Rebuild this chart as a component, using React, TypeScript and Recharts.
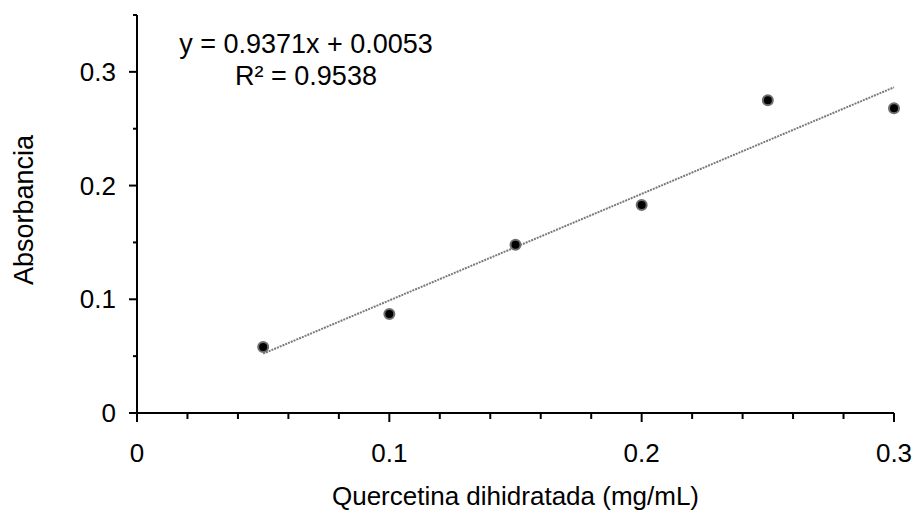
import React from "react";
import {
  ComposedChart,
  Scatter,
  XAxis,
  YAxis,
  ReferenceLine,
  Label,
} from "recharts";

// calibration points: concentration (mg/mL) vs absorbance
const concentrations = [0.05, 0.1, 0.15, 0.2, 0.25, 0.3];
const absorbances = [0.058, 0.087, 0.148, 0.183, 0.275, 0.268];

// linear fit shown on the chart
const slope = 0.9371;
const intercept = 0.0053;
const rSquared = 0.9538;

const xTicks = [0, 0.02, 0.04, 0.06, 0.08, 0.1, 0.12, 0.14, 0.16, 0.18, 0.2, 0.22, 0.24, 0.26, 0.28, 0.3];
const xMajor = [0, 0.1, 0.2, 0.3];
const yTicks = [0, 0.05, 0.1, 0.15, 0.2, 0.25, 0.3, 0.35];
const yMajor = [0, 0.1, 0.2, 0.3];

const FONT = "'Liberation Sans', Arial, sans-serif";
const TICK_SIZE = 8;
const TICK_MARGIN = 6;
const TICK_FONT = 26;

const points = concentrations.map((x, i) => ({ x, y: absorbances[i] }));
const fitStart = concentrations[0];
const fitEnd = concentrations[concentrations.length - 1];

const isMajor = (list: number[], v: number) => list.some((m) => Math.abs(m - v) < 1e-9);

function XTick(props: any) {
  const { x, y, payload } = props;
  const major = isMajor(xMajor, payload.value);
  const axisY = y - TICK_SIZE - TICK_MARGIN;
  return (
    <g>
      <line x1={x} x2={x} y1={axisY} y2={axisY + (major ? 9 : 6)} stroke="#000" strokeWidth={2} />
      {major && (
        <text x={x} y={axisY + 49} textAnchor="middle" fontSize={TICK_FONT} fontFamily={FONT} fill="#000">
          {payload.value}
        </text>
      )}
    </g>
  );
}

function YTick(props: any) {
  const { x, y, payload } = props;
  const major = isMajor(yMajor, payload.value);
  const axisX = x + TICK_SIZE + TICK_MARGIN;
  return (
    <g>
      <line x1={axisX - (major ? 8 : 4)} x2={axisX} y1={y} y2={y} stroke="#000" strokeWidth={2} />
      {major && (
        <text x={axisX - 21} y={y + 9} textAnchor="end" fontSize={TICK_FONT} fontFamily={FONT} fill="#000">
          {payload.value}
        </text>
      )}
    </g>
  );
}

function Dot(props: any) {
  const { cx, cy } = props;
  return <circle cx={cx} cy={cy} r={5} fill="#000" stroke="#6e6e6e" strokeWidth={2} />;
}

export default function App() {
  return (
    <div style={{ position: "relative", width: 916, height: 511, background: "#fff", fontFamily: FONT }}>
      <style>{"body{margin:0}"}</style>
      <ComposedChart width={916} height={511} margin={{ top: 15, right: 22, left: 0, bottom: 0 }}>
        <XAxis
          type="number"
          dataKey="x"
          domain={[0, 0.3]}
          ticks={xTicks}
          interval={0}
          tick={<XTick />}
          tickLine={false}
          tickSize={TICK_SIZE}
          tickMargin={TICK_MARGIN}
          axisLine={{ stroke: "#000", strokeWidth: 2 }}
          height={98}
        >
          <Label
            value="Quercetina dihidratada (mg/mL)"
            position="center"
            dy={34}
            style={{ fontSize: 26, fontFamily: FONT, fill: "#000" }}
          />
        </XAxis>
        <YAxis
          type="number"
          dataKey="y"
          domain={[0, 0.35]}
          ticks={yTicks}
          interval={0}
          tick={<YTick />}
          tickLine={false}
          tickSize={TICK_SIZE}
          tickMargin={TICK_MARGIN}
          axisLine={{ stroke: "#000", strokeWidth: 2 }}
          width={137}
        >
          <Label
            value="Absorbancia"
            angle={-90}
            position="center"
            dx={-45}
            dy={-4}
            style={{ fontSize: 27, fontFamily: FONT, fill: "#000", textAnchor: "middle" }}
          />
        </YAxis>
        <ReferenceLine
          segment={[
            { x: fitStart, y: slope * fitStart + intercept },
            { x: fitEnd, y: slope * fitEnd + intercept },
          ]}
          stroke="#7a7a7a"
          strokeWidth={2}
          strokeDasharray="2 1"
          ifOverflow="visible"
        />
        <Scatter data={points} shape={<Dot />} isAnimationActive={false} />
      </ComposedChart>
      <div
        style={{
          position: "absolute",
          left: 106,
          width: 400,
          top: 28,
          textAlign: "center",
          fontSize: 27,
          lineHeight: "32px",
          color: "#000",
          whiteSpace: "nowrap",
        }}
      >
        <div>
          y = {slope}x + {intercept.toFixed(4)}
        </div>
        <div>R² = {rSquared}</div>
      </div>
    </div>
  );
}
